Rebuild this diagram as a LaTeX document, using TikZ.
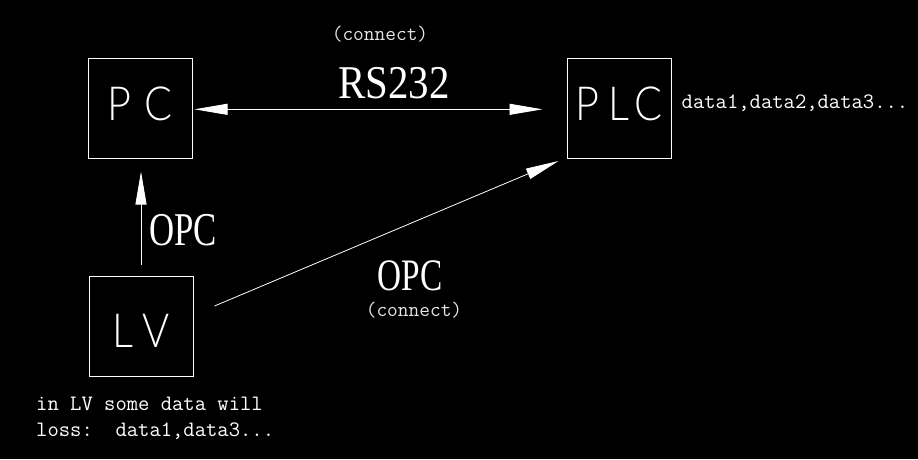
\documentclass[tikz,border=0pt]{standalone}
\usepackage{fontspec}
\setmainfont{Liberation Serif}
\newfontfamily\cadfont[FakeStretch=0.88]{Lato Light}
\newfontfamily\wideserif[FakeStretch=0.87]{Liberation Serif}
\newfontfamily\narrowserif[FakeStretch=0.74]{Liberation Serif}
\usetikzlibrary{arrows.meta,positioning,calc}
\tikzset{
  unit/.style={draw=white, line width=1pt, minimum width=104pt, minimum height=100pt, inner sep=0pt, text=white, text depth=9pt, font=\cadfont\fontsize{47}{47}\selectfont},
  arrow/.style={-{Triangle[length=33pt, width=11pt]}, draw=white, line width=0.8pt},
  darrow/.style={{Triangle[length=33pt, width=11pt]}-{Triangle[length=33pt, width=11pt]}, draw=white, line width=0.8pt},
  biglabel/.style={text=white, inner sep=0pt, anchor=base, font=\fontsize{47}{47}\selectfont},
  note/.style={text=white, inner sep=0pt, anchor=base west, font=\ttfamily\fontsize{22}{26}\selectfont},
  paren/.style={text=white!90!black, inner sep=0pt, anchor=base, font=\ttfamily\fontsize{20.8}{24}\selectfont}
}
\begin{document}
\begin{tikzpicture}[x=1pt, y=-1pt]
\fill[black] (0,0) rectangle (918,459);
\useasboundingbox (0,0) rectangle (918,459);
% the three units
\node[unit] (pc) at (140,108) {P\kern14pt C};
\node[unit] (plc) at (619,108) {P\kern9pt L\kern5pt C};
\node[unit, text depth=0pt, text height=43pt] (lv) at (141,326) {L\kern9pt V};
% links
\draw[darrow, shorten <=2pt, shorten >=24pt] ([yshift=-1.3pt]pc.east) -- ([yshift=-1.3pt]plc.west);
\draw[arrow, shorten <=11pt, shorten >=13pt] (lv.north) -- (lv.north |- pc.south);
\coordinate (lvout) at ($(lv.east)+(21,-20)$);
\coordinate (plcin) at ($(plc.south west)+(-8,2.5)$);
\draw[arrow] (lvout) -- (plcin);
% labels
\node[paren] (topconnect) at (380,40) {(connect)};
\node[biglabel, font=\wideserif\fontsize{47}{47}\selectfont] (rs) at (394,98) {RS232};
\node[biglabel, font=\narrowserif\fontsize{47}{47}\selectfont] (opcup) at (183,245) {OPC};
\node[biglabel, font=\narrowserif\fontsize{45}{45}\selectfont] (opcdiag) at (410,290) {OPC};
\node[paren] (lowconnect) at (414,316) {(connect)};
\node[note] (plcdata) at ($(plc.east)+(10,0.3)$) {data1,data2,data3...};
\node[note] (lvnote) at (36,410) {in LV some data will};
\node[note] (lvloss) at ($(lvnote.base west)+(0,26.7)$) {loss:\ \ data1,data3...};
\end{tikzpicture}
\end{document}
